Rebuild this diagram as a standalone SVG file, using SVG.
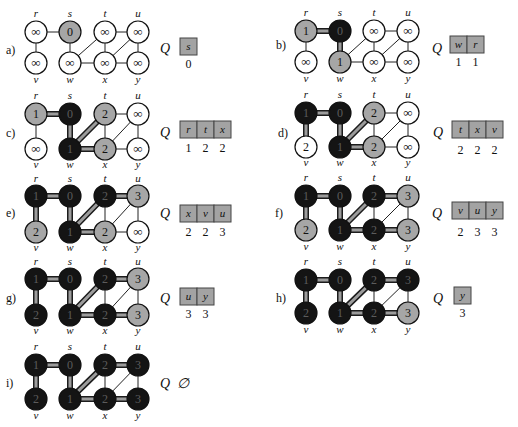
<svg xmlns="http://www.w3.org/2000/svg" width="518" height="427" viewBox="0 0 518 427">
<style>
circle{stroke:#111;stroke-width:1.2}
.w{fill:#fff}.g{fill:#a6a6a6}.b{fill:#141414}
.e{stroke:#222;stroke-width:1;fill:none}
.to{stroke:#1c1c1c;stroke-width:6;fill:none}
.ti{stroke:#9c9c9c;stroke-width:3;fill:none}
text{font-family:"Liberation Serif","DejaVu Serif",serif;fill:#111}
.n{font-size:12px;text-anchor:middle}
.inf{font-size:13px;text-anchor:middle}
.nb{font-size:12px;text-anchor:middle;fill:#5c5c5c}
.lb{font-size:11px;font-style:italic;text-anchor:middle}
.pl{font-size:12px}
.q{font-size:14px;font-style:italic}
.cell{fill:#a3a3a3;stroke:#444;stroke-width:1}
.ct{font-size:11px;font-style:italic;text-anchor:middle}
.qn{font-size:12px;text-anchor:middle}
</style>
<rect width="518" height="427" fill="#fff"/>
<g id="connectors">
<path class="e" d="M36 32H70M36 32V63M70 32V63M70 63L105 32M70 63H105M105 32V63M105 32H138M105 63L138 32M105 63H138M138 32V63"/>
<path class="e" d="M306 31V62M340 62L374 31M340 62H374M374 31V62M374 31H408M374 62L408 31M374 62H408M408 31V62"/>
<path class="e" d="M36 114V149M105 114V149M105 114H138M105 149L138 114M105 149H138M138 114V149"/>
<path class="e" d="M374 113V147M374 113H408M374 147L408 113M374 147H408M408 113V147"/>
<path class="e" d="M105 196V232M105 232L138 196M105 232H138M138 196V232"/>
<path class="e" d="M374 196V230M374 230L408 196M408 196V230"/>
<path class="e" d="M105 279V315M105 315L138 279M138 279V315"/>
<path class="e" d="M374 280V313M374 313L408 280M408 280V313"/>
<path class="e" d="M105 365V399M105 399L138 365M138 365V399"/>
<g id="tree-outer" class="to">
<path d="M306 31H340M340 31V62"/>
<path d="M36 114H70M70 114V149M70 149L105 114M70 149H105"/>
<path d="M306 113H340M340 113V147M340 147L374 113M340 147H374M306 113V147"/>
<path d="M36 196H70M70 196V232M70 232L105 196M70 232H105M36 196V232M105 196H138"/>
<path d="M306 196H340M340 196V230M340 230L374 196M340 230H374M306 196V230M374 196H408M374 230H408"/>
<path d="M36 279H70M70 279V315M70 315L105 279M70 315H105M36 279V315M105 279H138M105 315H138"/>
<path d="M306 280H340M340 280V313M340 313L374 280M340 313H374M306 280V313M374 280H408M374 313H408"/>
<path d="M36 365H70M70 365V399M70 399L105 365M70 399H105M36 365V399M105 365H138M105 399H138"/>
</g>
<g id="tree-inner" class="ti">
<path d="M306 31H340M340 31V62"/>
<path d="M36 114H70M70 114V149M70 149L105 114M70 149H105"/>
<path d="M306 113H340M340 113V147M340 147L374 113M340 147H374M306 113V147"/>
<path d="M36 196H70M70 196V232M70 232L105 196M70 232H105M36 196V232M105 196H138"/>
<path d="M306 196H340M340 196V230M340 230L374 196M340 230H374M306 196V230M374 196H408M374 230H408"/>
<path d="M36 279H70M70 279V315M70 315L105 279M70 315H105M36 279V315M105 279H138M105 315H138"/>
<path d="M306 280H340M340 280V313M340 313L374 280M340 313H374M306 280V313M374 280H408M374 313H408"/>
<path d="M36 365H70M70 365V399M70 399L105 365M70 399H105M36 365V399M105 365H138M105 399H138"/>
</g>
</g>

<g id="panel-a">
<text class="pl" x="6" y="54">a)</text>
<g id="a-r"><circle class="w" cx="36" cy="32" r="11"/><text class="inf" x="36" y="36">∞</text><text class="lb" x="36" y="17">r</text></g>
<g id="a-s"><circle class="g" cx="70" cy="32" r="11"/><text class="n" x="70" y="36">0</text><text class="lb" x="70" y="17">s</text></g>
<g id="a-t"><circle class="w" cx="105" cy="32" r="11"/><text class="inf" x="105" y="36">∞</text><text class="lb" x="105" y="17">t</text></g>
<g id="a-u"><circle class="w" cx="138" cy="32" r="11"/><text class="inf" x="138" y="36">∞</text><text class="lb" x="138" y="17">u</text></g>
<g id="a-v"><circle class="w" cx="36" cy="63" r="11"/><text class="inf" x="36" y="67">∞</text><text class="lb" x="36" y="83">v</text></g>
<g id="a-w"><circle class="w" cx="70" cy="63" r="11"/><text class="inf" x="70" y="67">∞</text><text class="lb" x="70" y="83">w</text></g>
<g id="a-x"><circle class="w" cx="105" cy="63" r="11"/><text class="inf" x="105" y="67">∞</text><text class="lb" x="105" y="83">x</text></g>
<g id="a-y"><circle class="w" cx="138" cy="63" r="11"/><text class="inf" x="138" y="67">∞</text><text class="lb" x="138" y="83">y</text></g>
<g id="a-queue"><text class="q" x="160" y="53">Q</text><rect class="cell" x="180" y="38" width="17" height="17"/><text class="ct" x="188.5" y="50">s</text><text class="qn" x="188.5" y="68">0</text></g>
</g>

<g id="panel-b">
<text class="pl" x="276" y="49">b)</text>
<g id="b-r"><circle class="g" cx="306" cy="31" r="11"/><text class="n" x="306" y="35">1</text><text class="lb" x="306" y="16">r</text></g>
<g id="b-s"><circle class="b" cx="340" cy="31" r="11"/><text class="nb" x="340" y="35">0</text><text class="lb" x="340" y="16">s</text></g>
<g id="b-t"><circle class="w" cx="374" cy="31" r="11"/><text class="inf" x="374" y="35">∞</text><text class="lb" x="374" y="16">t</text></g>
<g id="b-u"><circle class="w" cx="408" cy="31" r="11"/><text class="inf" x="408" y="35">∞</text><text class="lb" x="408" y="16">u</text></g>
<g id="b-v"><circle class="w" cx="306" cy="62" r="11"/><text class="inf" x="306" y="66">∞</text><text class="lb" x="306" y="82">v</text></g>
<g id="b-w"><circle class="g" cx="340" cy="62" r="11"/><text class="n" x="340" y="66">1</text><text class="lb" x="340" y="82">w</text></g>
<g id="b-x"><circle class="w" cx="374" cy="62" r="11"/><text class="inf" x="374" y="66">∞</text><text class="lb" x="374" y="82">x</text></g>
<g id="b-y"><circle class="w" cx="408" cy="62" r="11"/><text class="inf" x="408" y="66">∞</text><text class="lb" x="408" y="82">y</text></g>
<g id="b-queue"><text class="q" x="432" y="53">Q</text><rect class="cell" x="450" y="36" width="17" height="17"/><rect class="cell" x="467" y="36" width="17" height="17"/><text class="ct" x="458.5" y="48">w</text><text class="ct" x="475.5" y="48">r</text><text class="qn" x="458.5" y="66">1</text><text class="qn" x="475.5" y="66">1</text></g>
</g>

<g id="panel-c">
<text class="pl" x="6" y="137">c)</text>
<g id="c-r"><circle class="g" cx="36" cy="114" r="11"/><text class="n" x="36" y="118">1</text><text class="lb" x="36" y="99">r</text></g>
<g id="c-s"><circle class="b" cx="70" cy="114" r="11"/><text class="nb" x="70" y="118">0</text><text class="lb" x="70" y="99">s</text></g>
<g id="c-t"><circle class="g" cx="105" cy="114" r="11"/><text class="n" x="105" y="118">2</text><text class="lb" x="105" y="99">t</text></g>
<g id="c-u"><circle class="w" cx="138" cy="114" r="11"/><text class="inf" x="138" y="118">∞</text><text class="lb" x="138" y="99">u</text></g>
<g id="c-v"><circle class="w" cx="36" cy="149" r="11"/><text class="inf" x="36" y="153">∞</text><text class="lb" x="36" y="168">v</text></g>
<g id="c-w"><circle class="b" cx="70" cy="149" r="11"/><text class="nb" x="70" y="153">1</text><text class="lb" x="70" y="168">w</text></g>
<g id="c-x"><circle class="g" cx="105" cy="149" r="11"/><text class="n" x="105" y="153">2</text><text class="lb" x="105" y="168">x</text></g>
<g id="c-y"><circle class="w" cx="138" cy="149" r="11"/><text class="inf" x="138" y="153">∞</text><text class="lb" x="138" y="168">y</text></g>
<g id="c-queue"><text class="q" x="160" y="137">Q</text><rect class="cell" x="180" y="121" width="17" height="17"/><rect class="cell" x="197" y="121" width="17" height="17"/><rect class="cell" x="214" y="121" width="17" height="17"/><text class="ct" x="188.5" y="133">r</text><text class="ct" x="205.5" y="133">t</text><text class="ct" x="222.5" y="133">x</text><text class="qn" x="188.5" y="152">1</text><text class="qn" x="205.5" y="152">2</text><text class="qn" x="222.5" y="152">2</text></g>
</g>

<g id="panel-d">
<text class="pl" x="278" y="137">d)</text>
<g id="d-r"><circle class="b" cx="306" cy="113" r="11"/><text class="nb" x="306" y="117">1</text><text class="lb" x="306" y="98">r</text></g>
<g id="d-s"><circle class="b" cx="340" cy="113" r="11"/><text class="nb" x="340" y="117">0</text><text class="lb" x="340" y="98">s</text></g>
<g id="d-t"><circle class="g" cx="374" cy="113" r="11"/><text class="n" x="374" y="117">2</text><text class="lb" x="374" y="98">t</text></g>
<g id="d-u"><circle class="w" cx="408" cy="113" r="11"/><text class="inf" x="408" y="117">∞</text><text class="lb" x="408" y="98">u</text></g>
<g id="d-v"><circle class="w" cx="306" cy="147" r="11"/><text class="n" x="306" y="151">2</text><text class="lb" x="306" y="166">v</text></g>
<g id="d-w"><circle class="b" cx="340" cy="147" r="11"/><text class="nb" x="340" y="151">1</text><text class="lb" x="340" y="166">w</text></g>
<g id="d-x"><circle class="g" cx="374" cy="147" r="11"/><text class="n" x="374" y="151">2</text><text class="lb" x="374" y="166">x</text></g>
<g id="d-y"><circle class="w" cx="408" cy="147" r="11"/><text class="inf" x="408" y="151">∞</text><text class="lb" x="408" y="166">y</text></g>
<g id="d-queue"><text class="q" x="433" y="137">Q</text><rect class="cell" x="452" y="121" width="17" height="17"/><rect class="cell" x="469" y="121" width="17" height="17"/><rect class="cell" x="486" y="121" width="17" height="17"/><text class="ct" x="460.5" y="133">t</text><text class="ct" x="477.5" y="133">x</text><text class="ct" x="494.5" y="133">v</text><text class="qn" x="460.5" y="154">2</text><text class="qn" x="477.5" y="154">2</text><text class="qn" x="494.5" y="154">2</text></g>
</g>

<g id="panel-e">
<text class="pl" x="6" y="217">e)</text>
<g id="e-r"><circle class="b" cx="36" cy="196" r="11"/><text class="nb" x="36" y="200">1</text><text class="lb" x="36" y="182">r</text></g>
<g id="e-s"><circle class="b" cx="70" cy="196" r="11"/><text class="nb" x="70" y="200">0</text><text class="lb" x="70" y="182">s</text></g>
<g id="e-t"><circle class="b" cx="105" cy="196" r="11"/><text class="nb" x="105" y="200">2</text><text class="lb" x="105" y="182">t</text></g>
<g id="e-u"><circle class="g" cx="138" cy="196" r="11"/><text class="n" x="138" y="200">3</text><text class="lb" x="138" y="182">u</text></g>
<g id="e-v"><circle class="g" cx="36" cy="232" r="11"/><text class="n" x="36" y="236">2</text><text class="lb" x="36" y="251">v</text></g>
<g id="e-w"><circle class="b" cx="70" cy="232" r="11"/><text class="nb" x="70" y="236">1</text><text class="lb" x="70" y="251">w</text></g>
<g id="e-x"><circle class="g" cx="105" cy="232" r="11"/><text class="n" x="105" y="236">2</text><text class="lb" x="105" y="251">x</text></g>
<g id="e-y"><circle class="w" cx="138" cy="232" r="11"/><text class="inf" x="138" y="236">∞</text><text class="lb" x="138" y="251">y</text></g>
<g id="e-queue"><text class="q" x="160" y="218">Q</text><rect class="cell" x="180" y="205" width="17" height="17"/><rect class="cell" x="197" y="205" width="17" height="17"/><rect class="cell" x="214" y="205" width="17" height="17"/><text class="ct" x="188.5" y="217">x</text><text class="ct" x="205.5" y="217">v</text><text class="ct" x="222.5" y="217">u</text><text class="qn" x="188.5" y="236">2</text><text class="qn" x="205.5" y="236">2</text><text class="qn" x="222.5" y="236">3</text></g>
</g>

<g id="panel-f">
<text class="pl" x="275" y="217">f)</text>
<g id="f-r"><circle class="b" cx="306" cy="196" r="11"/><text class="nb" x="306" y="200">1</text><text class="lb" x="306" y="181">r</text></g>
<g id="f-s"><circle class="b" cx="340" cy="196" r="11"/><text class="nb" x="340" y="200">0</text><text class="lb" x="340" y="181">s</text></g>
<g id="f-t"><circle class="b" cx="374" cy="196" r="11"/><text class="nb" x="374" y="200">2</text><text class="lb" x="374" y="181">t</text></g>
<g id="f-u"><circle class="g" cx="408" cy="196" r="11"/><text class="n" x="408" y="200">3</text><text class="lb" x="408" y="181">u</text></g>
<g id="f-v"><circle class="g" cx="306" cy="230" r="11"/><text class="n" x="306" y="234">2</text><text class="lb" x="306" y="250">v</text></g>
<g id="f-w"><circle class="b" cx="340" cy="230" r="11"/><text class="nb" x="340" y="234">1</text><text class="lb" x="340" y="250">w</text></g>
<g id="f-x"><circle class="b" cx="374" cy="230" r="11"/><text class="nb" x="374" y="234">2</text><text class="lb" x="374" y="250">x</text></g>
<g id="f-y"><circle class="g" cx="408" cy="230" r="11"/><text class="n" x="408" y="234">3</text><text class="lb" x="408" y="250">y</text></g>
<g id="f-queue"><text class="q" x="432" y="218">Q</text><rect class="cell" x="452" y="202" width="17" height="17"/><rect class="cell" x="469" y="202" width="17" height="17"/><rect class="cell" x="486" y="202" width="17" height="17"/><text class="ct" x="460.5" y="214">v</text><text class="ct" x="477.5" y="214">u</text><text class="ct" x="494.5" y="214">y</text><text class="qn" x="460.5" y="236">2</text><text class="qn" x="477.5" y="236">3</text><text class="qn" x="494.5" y="236">3</text></g>
</g>

<g id="panel-g">
<text class="pl" x="6" y="302">g)</text>
<g id="g-r"><circle class="b" cx="36" cy="279" r="11"/><text class="nb" x="36" y="283">1</text><text class="lb" x="36" y="265">r</text></g>
<g id="g-s"><circle class="b" cx="70" cy="279" r="11"/><text class="nb" x="70" y="283">0</text><text class="lb" x="70" y="265">s</text></g>
<g id="g-t"><circle class="b" cx="105" cy="279" r="11"/><text class="nb" x="105" y="283">2</text><text class="lb" x="105" y="265">t</text></g>
<g id="g-u"><circle class="g" cx="138" cy="279" r="11"/><text class="n" x="138" y="283">3</text><text class="lb" x="138" y="265">u</text></g>
<g id="g-v"><circle class="b" cx="36" cy="315" r="11"/><text class="nb" x="36" y="319">2</text><text class="lb" x="36" y="334">v</text></g>
<g id="g-w"><circle class="b" cx="70" cy="315" r="11"/><text class="nb" x="70" y="319">1</text><text class="lb" x="70" y="334">w</text></g>
<g id="g-x"><circle class="b" cx="105" cy="315" r="11"/><text class="nb" x="105" y="319">2</text><text class="lb" x="105" y="334">x</text></g>
<g id="g-y"><circle class="g" cx="138" cy="315" r="11"/><text class="n" x="138" y="319">3</text><text class="lb" x="138" y="334">y</text></g>
<g id="g-queue"><text class="q" x="160" y="303">Q</text><rect class="cell" x="180" y="288" width="17" height="17"/><rect class="cell" x="197" y="288" width="17" height="17"/><text class="ct" x="188.5" y="300">u</text><text class="ct" x="205.5" y="300">y</text><text class="qn" x="188.5" y="318">3</text><text class="qn" x="205.5" y="318">3</text></g>
</g>

<g id="panel-h">
<text class="pl" x="276" y="302">h)</text>
<g id="h-r"><circle class="b" cx="306" cy="280" r="11"/><text class="nb" x="306" y="284">1</text><text class="lb" x="306" y="265">r</text></g>
<g id="h-s"><circle class="b" cx="340" cy="280" r="11"/><text class="nb" x="340" y="284">0</text><text class="lb" x="340" y="265">s</text></g>
<g id="h-t"><circle class="b" cx="374" cy="280" r="11"/><text class="nb" x="374" y="284">2</text><text class="lb" x="374" y="265">t</text></g>
<g id="h-u"><circle class="b" cx="408" cy="280" r="11"/><text class="nb" x="408" y="284">3</text><text class="lb" x="408" y="265">u</text></g>
<g id="h-v"><circle class="b" cx="306" cy="313" r="11"/><text class="nb" x="306" y="317">2</text><text class="lb" x="306" y="333">v</text></g>
<g id="h-w"><circle class="b" cx="340" cy="313" r="11"/><text class="nb" x="340" y="317">1</text><text class="lb" x="340" y="333">w</text></g>
<g id="h-x"><circle class="b" cx="374" cy="313" r="11"/><text class="nb" x="374" y="317">2</text><text class="lb" x="374" y="333">x</text></g>
<g id="h-y"><circle class="g" cx="408" cy="313" r="11"/><text class="n" x="408" y="317">3</text><text class="lb" x="408" y="333">y</text></g>
<g id="h-queue"><text class="q" x="433" y="303">Q</text><rect class="cell" x="454" y="287" width="17" height="17"/><text class="ct" x="462.5" y="299">y</text><text class="qn" x="462.5" y="317">3</text></g>
</g>

<g id="panel-i">
<text class="pl" x="6" y="387">i)</text>
<g id="i-r"><circle class="b" cx="36" cy="365" r="11"/><text class="nb" x="36" y="369">1</text><text class="lb" x="36" y="350">r</text></g>
<g id="i-s"><circle class="b" cx="70" cy="365" r="11"/><text class="nb" x="70" y="369">0</text><text class="lb" x="70" y="350">s</text></g>
<g id="i-t"><circle class="b" cx="105" cy="365" r="11"/><text class="nb" x="105" y="369">2</text><text class="lb" x="105" y="350">t</text></g>
<g id="i-u"><circle class="b" cx="138" cy="365" r="11"/><text class="nb" x="138" y="369">3</text><text class="lb" x="138" y="350">u</text></g>
<g id="i-v"><circle class="b" cx="36" cy="399" r="11"/><text class="nb" x="36" y="403">2</text><text class="lb" x="36" y="419">v</text></g>
<g id="i-w"><circle class="b" cx="70" cy="399" r="11"/><text class="nb" x="70" y="403">1</text><text class="lb" x="70" y="419">w</text></g>
<g id="i-x"><circle class="b" cx="105" cy="399" r="11"/><text class="nb" x="105" y="403">2</text><text class="lb" x="105" y="419">x</text></g>
<g id="i-y"><circle class="b" cx="138" cy="399" r="11"/><text class="nb" x="138" y="403">3</text><text class="lb" x="138" y="419">y</text></g>
<g id="i-queue"><text class="q" x="160" y="388">Q</text><text class="q" x="177" y="388">∅</text></g>
</g>
</svg>
